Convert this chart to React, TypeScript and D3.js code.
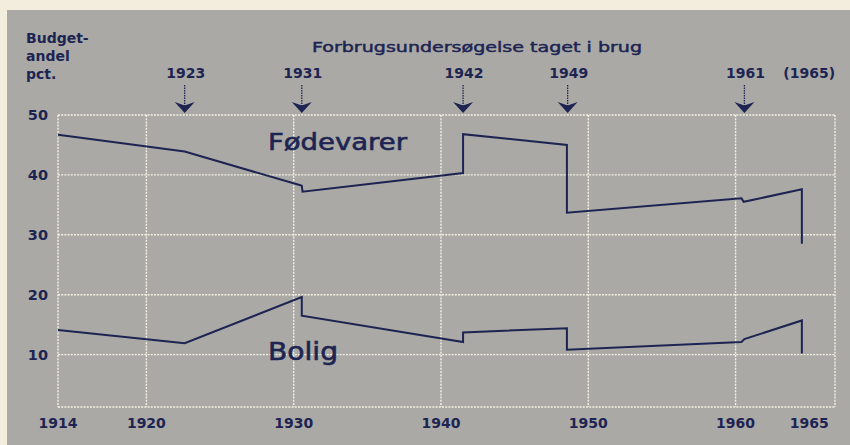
import React from "react";
import * as d3 from "d3";

// Fødevarer (food) share of budget, pct.
const foodYears = [1914, 1922.6, 1930.4, 1930.55, 1930.6, 1941.5, 1941.5, 1948.55, 1948.55, 1960.4, 1960.55, 1964.5, 1964.5];
const foodValues = [46.7, 43.9, 38.3, 38.2, 37.2, 40.3, 46.8, 45.0, 33.7, 36.1, 35.5, 37.6, 28.5];

// Bolig (housing) share of budget, pct.
const housingYears = [1914, 1922.6, 1930.55, 1930.55, 1941.5, 1941.5, 1948.55, 1948.55, 1960.4, 1960.6, 1964.5, 1964.5];
const housingValues = [14.1, 11.9, 19.6, 16.5, 12.1, 13.7, 14.4, 10.8, 12.1, 12.6, 15.7, 10.2];

// consumer surveys taken into use
const surveyLabels = ["1923", "1931", "1942", "1949", "1961"];
const surveyAt = [1922.6, 1930.55, 1941.5, 1948.6, 1960.6];

const xTicks = [1914, 1920, 1930, 1940, 1950, 1960, 1965];
const xGrid = [1914, 1920, 1930, 1940, 1950, 1960];
const yTicks = [10, 20, 30, 40, 50];

const INK = "#1d2452";
const BG = "#aaa9a6";
const GRID = "#f4f0e2";

export default function App() {
  const ref = React.useRef<SVGSVGElement | null>(null);

  React.useEffect(() => {
    if (!ref.current) return;
    const svg = d3.select(ref.current);
    svg.selectAll("*").remove();
    const width = 850;
    const height = 445;
    const plot = { left: 58, right: 835, top: 115, bottom: 407 };

    const x = d3.scaleLinear().domain([1914, 1966.75]).range([plot.left, plot.right]);
    const y = d3.scaleLinear().domain([1.25, 50]).range([plot.bottom, plot.top]);

    svg.append("rect").attr("width", width).attr("height", height).attr("fill", "#f2eddc");
    svg.append("rect").attr("x", 7).attr("y", 10).attr("width", width - 7).attr("height", height - 10).attr("fill", BG);

    // grid
    const grid = svg.append("g").attr("stroke", GRID).attr("stroke-width", 1.4).attr("stroke-dasharray", "2,1.2").attr("fill", "none");
    xGrid.forEach(v => {
      grid.append("line").attr("x1", x(v)).attr("x2", x(v)).attr("y1", plot.top).attr("y2", plot.bottom);
    });
    grid.append("line").attr("x1", plot.right).attr("x2", plot.right).attr("y1", plot.top).attr("y2", plot.bottom);
    yTicks.forEach(v => {
      grid.append("line").attr("x1", plot.left).attr("x2", plot.right).attr("y1", y(v)).attr("y2", y(v));
    });
    grid.append("line").attr("x1", plot.left).attr("x2", plot.right).attr("y1", plot.bottom).attr("y2", plot.bottom);

    const font = "'DejaVu Sans', sans-serif";

    // y labels
    svg.append("g")
      .selectAll("text")
      .data(yTicks)
      .join("text")
      .attr("x", 48)
      .attr("y", d => y(d))
      .attr("dy", "0.36em")
      .attr("text-anchor", "end")
      .attr("font-family", font)
      .attr("font-weight", "bold")
      .attr("font-size", 14.5)
      .attr("fill", INK)
      .text(d => d);

    // x labels
    svg.append("g")
      .selectAll("text")
      .data(xTicks)
      .join("text")
      .attr("x", d => x(d))
      .attr("y", 428)
      .attr("text-anchor", "middle")
      .attr("font-family", font)
      .attr("font-weight", "bold")
      .attr("font-size", 14)
      .attr("fill", INK)
      .text(d => d);

    // y axis title
    ["Budget-", "andel", "pct."].forEach((t, i) => {
      svg.append("text")
        .attr("x", 26)
        .attr("y", 43 + i * 18)
        .attr("font-family", font)
        .attr("font-weight", "bold")
        .attr("font-size", 14)
        .attr("fill", INK)
        .text(t);
    });

    // survey title
    svg.append("text")
      .attr("x", 312)
      .attr("y", 52)
      .attr("font-family", font)
      .attr("font-size", 14)
      .attr("fill", INK)
      .attr("stroke", INK)
      .attr("stroke-width", 0.45)
      .attr("textLength", 330)
      .attr("lengthAdjust", "spacingAndGlyphs")
      .text("Forbrugsundersøgelse taget i brug");

    // survey arrows
    surveyAt.forEach((yr, i) => {
      const cx = x(yr);
      svg.append("text")
        .attr("x", cx + 1)
        .attr("y", 78)
        .attr("text-anchor", "middle")
        .attr("font-family", font)
        .attr("font-weight", "bold")
        .attr("font-size", 14)
        .attr("fill", INK)
        .text(surveyLabels[i]);
      svg.append("line")
        .attr("x1", cx).attr("x2", cx)
        .attr("y1", 85).attr("y2", 106)
        .attr("stroke", INK)
        .attr("stroke-width", 1.3)
        .attr("stroke-dasharray", "1.5,1");
      svg.append("path")
        .attr("d", `M${cx - 10},102 L${cx},113 L${cx + 10},102 L${cx},105.5 Z`)
        .attr("fill", INK);
    });
    svg.append("text")
      .attr("x", x(1965))
      .attr("y", 78)
      .attr("text-anchor", "middle")
      .attr("font-family", font)
      .attr("font-weight", "bold")
      .attr("font-size", 14)
      .attr("fill", INK)
      .text("(1965)");

    // series
    const line = d3.line<[number, number]>().x(d => x(d[0])).y(d => y(d[1]));
    const food = foodYears.map((yr, i) => [yr, foodValues[i]] as [number, number]);
    const housing = housingYears.map((yr, i) => [yr, housingValues[i]] as [number, number]);
    [food, housing].forEach(series => {
      svg.append("path")
        .datum(series)
        .attr("fill", "none")
        .attr("stroke", INK)
        .attr("stroke-width", 2)
        .attr("stroke-linejoin", "miter")
        .attr("d", line);
    });

    // series labels
    svg.append("text")
      .attr("x", 268)
      .attr("y", 150)
      .attr("font-family", font)
      .attr("font-size", 23)
      .attr("fill", INK)
      .attr("stroke", INK)
      .attr("stroke-width", 0.6)
      .attr("textLength", 139)
      .attr("lengthAdjust", "spacingAndGlyphs")
      .text("Fødevarer");
    svg.append("text")
      .attr("x", 268)
      .attr("y", 360)
      .attr("font-family", font)
      .attr("font-size", 24)
      .attr("fill", INK)
      .attr("stroke", INK)
      .attr("stroke-width", 0.6)
      .attr("textLength", 70)
      .attr("lengthAdjust", "spacingAndGlyphs")
      .text("Bolig");
  }, []);

  return (
    <svg
      ref={ref}
      width={850}
      height={445}
      style={{ position: "absolute", left: 0, top: 0, display: "block" }}
    ></svg>
  );
}
